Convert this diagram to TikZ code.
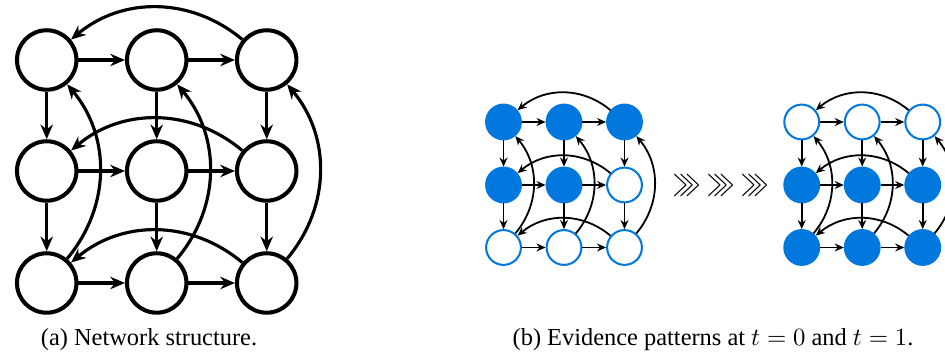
\documentclass[tikz,border=0pt]{standalone}
\usepackage{amssymb}
\usepackage{amsmath}
\usepackage{fontspec}
\setmainfont{Liberation Serif}
\usetikzlibrary{arrows.meta}

\definecolor{evblue}{RGB}{0,120,222}

\tikzset{
  bignode/.style={circle, draw=black, line width=1.8pt, fill=white, minimum size=26.3pt, inner sep=0pt},
  bigedge/.style={-{Stealth[length=6.5pt,width=5.5pt]}, line width=1.4pt},
  onnode/.style={circle, draw=evblue, fill=evblue, line width=0.9pt, minimum size=15.4pt, inner sep=0pt},
  offnode/.style={circle, draw=evblue, fill=white, line width=0.9pt, minimum size=15.4pt, inner sep=0pt},
  smalledge/.style={-{Stealth[length=4pt,width=3.5pt]}, line width=0.8pt},
  caption/.style={font=\fontsize{10.8}{13}\selectfont},
}

\begin{document}
\begin{tikzpicture}[x=0.4425pt,y=0.4425pt]
\useasboundingbox (0,0) rectangle (945,357);

% network structure
\node[bignode] (a11) at (46.7,297) {};
\node[bignode] (a12) at (156.7,297) {};
\node[bignode] (a13) at (266.7,297) {};
\node[bignode] (a21) at (46.7,186) {};
\node[bignode] (a22) at (156.7,186) {};
\node[bignode] (a23) at (266.7,186) {};
\node[bignode] (a31) at (46.7,74) {};
\node[bignode] (a32) at (156.7,74) {};
\node[bignode] (a33) at (266.7,74) {};

% evidence at t=0
\node[onnode] (b11) at (503.5,235) {};
\node[onnode] (b12) at (564,235) {};
\node[onnode] (b13) at (624.5,235) {};
\node[onnode] (b21) at (503.5,172) {};
\node[onnode] (b22) at (564,172) {};
\node[offnode] (b23) at (624.5,172) {};
\node[offnode] (b31) at (503.5,109.5) {};
\node[offnode] (b32) at (564,109.5) {};
\node[offnode] (b33) at (624.5,109.5) {};

% evidence at t=1
\node[offnode] (c11) at (801.7,235) {};
\node[offnode] (c12) at (862.2,235) {};
\node[offnode] (c13) at (922.7,235) {};
\node[onnode] (c21) at (801.7,172) {};
\node[onnode] (c22) at (862.2,172) {};
\node[onnode] (c23) at (922.7,172) {};
\node[onnode] (c31) at (801.7,109.5) {};
\node[onnode] (c32) at (862.2,109.5) {};
\node[onnode] (c33) at (922.7,109.5) {};

% same edges in all three grids
\foreach \g/\s in {a/bigedge, b/smalledge, c/smalledge} {
  \foreach \r in {1,2,3} {
    \draw[\s] (\g\r1) -- (\g\r2);
    \draw[\s] (\g\r2) -- (\g\r3);
    \draw[\s] (\g1\r) -- (\g2\r);
    \draw[\s] (\g2\r) -- (\g3\r);
    \draw[\s] (\g\r3) to[bend right=40] (\g\r1);
    \draw[\s] (\g3\r) to[bend right=40] (\g1\r);
  }
}

% time steps between the two patterns
\node (step1) at (687.5,172) {\scalebox{0.9}[1.6]{$\ggg$}};
\node (step2) at (721.5,172) {\scalebox{0.9}[1.6]{$\ggg$}};
\node (step3) at (755,172) {\scalebox{0.9}[1.6]{$\ggg$}};

\node[caption] (capa) at (149,17) {(a) Network structure.};
\node[caption] (capb) at (713,17) {(b) Evidence patterns at $t=0$ and $t=1$.};
\end{tikzpicture}
\end{document}
